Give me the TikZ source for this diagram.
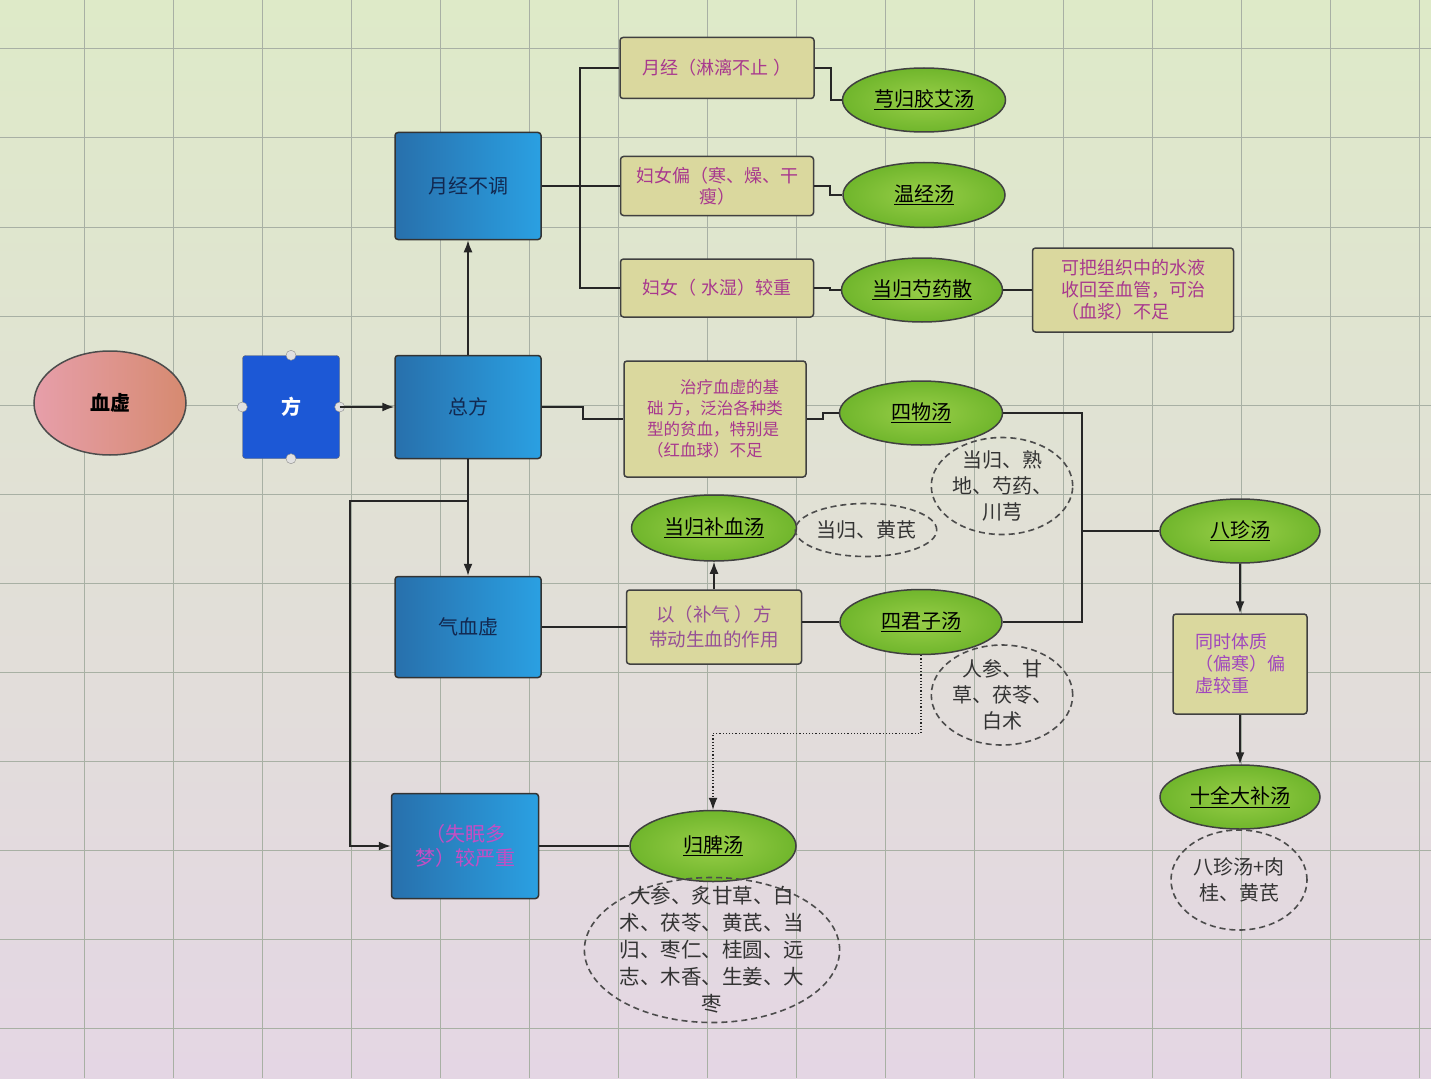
\documentclass[tikz,border=0pt]{standalone}
\usepackage{fontspec}
\setmainfont{Noto Sans CJK SC}
\usepackage{xcolor}
\usetikzlibrary{shapes.geometric,arrows.meta}
\definecolor{paper}{RGB}{222,234,200}
\definecolor{paperpink}{RGB}{228,214,228}
\definecolor{gridline}{RGB}{168,176,164}
\definecolor{deficit}{RGB}{214,138,112}
\definecolor{fangblue}{RGB}{28,88,214}
\definecolor{topicdark}{RGB}{40,112,172}
\definecolor{topiclight}{RGB}{42,160,226}
\definecolor{topictext}{RGB}{18,40,80}
\definecolor{remedy}{RGB}{112,182,44}
\definecolor{remedylight}{RGB}{152,206,72}
\definecolor{notefill}{RGB}{218,216,158}
\definecolor{notetext}{RGB}{168,56,142}
\tikzstyle{topic}=[rectangle, rounded corners=3pt, draw=black!80, line width=1.5pt, minimum width=146pt, minimum height=104pt, left color=topicdark, right color=topiclight, text=topictext, align=center, font=\fontsize{20}{24}\selectfont]
\tikzstyle{remedy}=[ellipse, draw=black!75, line width=1.5pt, minimum width=162pt, minimum height=64pt, inner sep=0pt, inner color=remedylight, outer color=remedy, font=\fontsize{20}{24}\selectfont]
\tikzstyle{note}=[rectangle, rounded corners=3pt, draw=black!75, line width=1.5pt, fill=notefill, text=notetext, font=\fontsize{18}{22}\selectfont, align=center]
\tikzset{herbs/.style={ellipse, draw=black!70, dash pattern=on 6pt off 4pt, line width=1.6pt, inner sep=0pt, text=black!80, align=center, font=\fontsize{20}{26}\selectfont}}
\tikzset{link/.style={line width=1.6pt, draw=black!85}}
\tikzset{flow/.style={link, -{Latex[length=12pt,width=9pt]}}}
\tikzstyle{handle}=[circle, draw=black!45, fill=white!88!black, minimum size=10pt, inner sep=0pt]

\begin{document}
\begin{tikzpicture}[x=1pt,y=-1pt]
  \useasboundingbox (0,0) rectangle (1431,1078);
  %% Screen and grid
  \shade[top color=paper, bottom color=paperpink] (0,0) rectangle (1431,1078);
  \foreach \gx in {84,173,...,1431} \draw[gridline, line width=1pt] (\gx,0) -- (\gx,1078);
  \foreach \gy in {49,138,...,1078} \draw[gridline, line width=1pt] (0,\gy) -- (1431,\gy);

  \draw (110,403) node[ellipse, draw=black!70, line width=1.5pt, minimum width=152pt, minimum height=104pt, left color=deficit!85!magenta!70, right color=deficit, font=\fontsize{20}{24}\selectfont\bfseries] (Xuexu) {血虚};
  \draw (291,407) node[rectangle, rounded corners=3pt, draw=black!60, fill=fangblue, minimum width=97pt, minimum height=103pt, text=white, font=\fontsize{20}{24}\selectfont\bfseries] (Fang) {方};
  \draw (Fang.north) node[handle] (FangN) {};
  \draw (Fang.south) node[handle] (FangS) {};
  \draw (Fang.west) node[handle] (FangW) {};
  \draw (Fang.east) node[handle] (FangE) {};

  \draw (468,186) node[topic, minimum height=107pt] (T1) {月经不调};
  \draw (468,407) node[topic, minimum height=103pt] (T2) {总方};
  \draw (468,627) node[topic, minimum height=101pt] (T3) {气血虚};
  \draw (465,846) node[topic, minimum width=147pt, minimum height=105pt, text={rgb,255:red,196;green,78;blue,196}] (T4) {（失眠多\\梦）较严重};

  \draw (717,68) node[note, minimum width=194pt, minimum height=61pt] (N1) {月经（淋漓不止 ）};
  \draw (717,186) node[note, minimum width=193pt, minimum height=59pt, font=\fontsize{18}{21}\selectfont] (N2) {妇女偏（寒、燥、干\\瘦）};
  \draw (717,288) node[note, minimum width=193pt, minimum height=58pt] (N3) {妇女（ 水湿）较重};
  \draw (1133,290) node[note, minimum width=201pt, minimum height=84pt, align=left] (N4) {可把组织中的水液\\收回至血管，可治\\（血浆）不足};
  \draw (715,419) node[note, minimum width=182pt, minimum height=116pt, align=left, font=\fontsize{16.5}{21}\selectfont] (N5) {\hspace*{2em}治疗血虚的基\\础 方，泛治各种类\\型的贫血，特别是\\（红血球）不足};
  \draw (714,627) node[note, minimum width=175pt, minimum height=74pt, text={rgb,255:red,150;green,80;blue,150}, font=\fontsize{18.5}{25}\selectfont] (N6) {以（补气 ）方\\带动生血的作用};
  \draw (1240,664) node[note, minimum width=134pt, minimum height=100pt, align=left, text={rgb,255:red,160;green,70;blue,190}] (N7) {同时体质\\（偏寒）偏\\虚较重};

  \draw (924,100) node[remedy, minimum width=163pt] (R1) {\underline{芎归胶艾汤}};
  \draw (924,195) node[remedy, minimum height=65pt] (R2) {\underline{温经汤}};
  \draw (922,290) node[remedy, minimum width=161pt] (R3) {\underline{当归芍药散}};
  \draw (921,413) node[remedy, minimum width=163pt] (R4) {\underline{四物汤}};
  \draw (714,528) node[remedy, minimum width=165pt, minimum height=66pt] (R5) {\underline{当归补血汤}};
  \draw (921,622) node[remedy, minimum height=65pt] (R6) {\underline{四君子汤}};
  \draw (1240,531) node[remedy, minimum width=160pt] (R7) {\underline{八珍汤}};
  \draw (1240,797) node[remedy, minimum width=160pt] (R8) {\underline{十全大补汤}};
  \draw (713,846) node[remedy, minimum width=166pt, minimum height=71pt] (R9) {\underline{归脾汤}};

  \draw (866,530) node[herbs, minimum width=137pt, minimum height=53pt] (H1) {当归、黄芪};
  \draw (1002,486) node[herbs, minimum width=139pt, minimum height=97pt, inner ysep=-4pt] (H2) {当归、熟\\地、芍药、\\川芎};
  \draw (1002,695) node[herbs, minimum width=138pt, minimum height=100pt, inner ysep=-4pt] (H3) {人参、甘\\草、茯苓、\\白术};
  \draw (712,950) node[herbs, minimum width=240pt, minimum height=145pt, inner xsep=-2pt, inner ysep=-16pt, font=\fontsize{20.5}{27}\selectfont] (H4) {大参、炙甘草、白\\术、茯苓、黄芪、当\\归、枣仁、桂圆、远\\志、木香、生姜、大\\枣};
  \draw (1239,880) node[herbs, minimum width=136pt, minimum height=100pt] (H5) {八珍汤+肉\\桂、黄芪};

  %% Connectors
  \draw[flow] (Fang.east) -- (T2.west);
  \draw[flow] (T2.north) -- (T1.south);
  \draw[flow] (T2.south) -- (T3.north);
  \coordinate (Split) at (468,501);
  \coordinate (Bend) at (350,501);
  \draw[flow] (Split) -- (Bend) |- (T4.west);

  \coordinate (Fork) at (580,186);
  \draw[link] (T1.east) -- (Fork);
  \draw[link] (Fork) |- (N1.west);
  \draw[link] (Fork) -- (N2.west);
  \draw[link] (Fork) |- (N3.west);
  \draw[link] (N1.east) -- ++(16,0) |- (R1.west);
  \draw[link] (N2.east) -- ++(16,0) |- (R2.west);
  \draw[link] (N3.east) -- ++(16,0) |- (R3.west);
  \draw[link] (R3.east) -- (N4.west);

  \draw[link] (T2.east) -- ++(41,0) |- (N5.west);
  \draw[link] (N5.east) -- ++(16,0) |- (R4.west);
  \coordinate (Join) at (1082,531);
  \draw[link] (R4.east) -| (Join) |- (R6.east);
  \draw[link] (Join) -- (R7.west);
  \draw[flow] (R7.south) -- (N7.north);
  \draw[flow] (N7.south) -- (R8.north);

  \draw[link] (T3.east) -- (N6.west);
  \draw[link] (N6.east |- R6.west) -- (R6.west);
  \draw[flow] (N6.north) -- (R5.south);
  \draw[flow, line width=1.2pt, dotted] (R6.south) -- ++(0,78) -| (R9.north);
  \draw[link] (T4.east) -- (R9.west);
\end{tikzpicture}
\end{document}
